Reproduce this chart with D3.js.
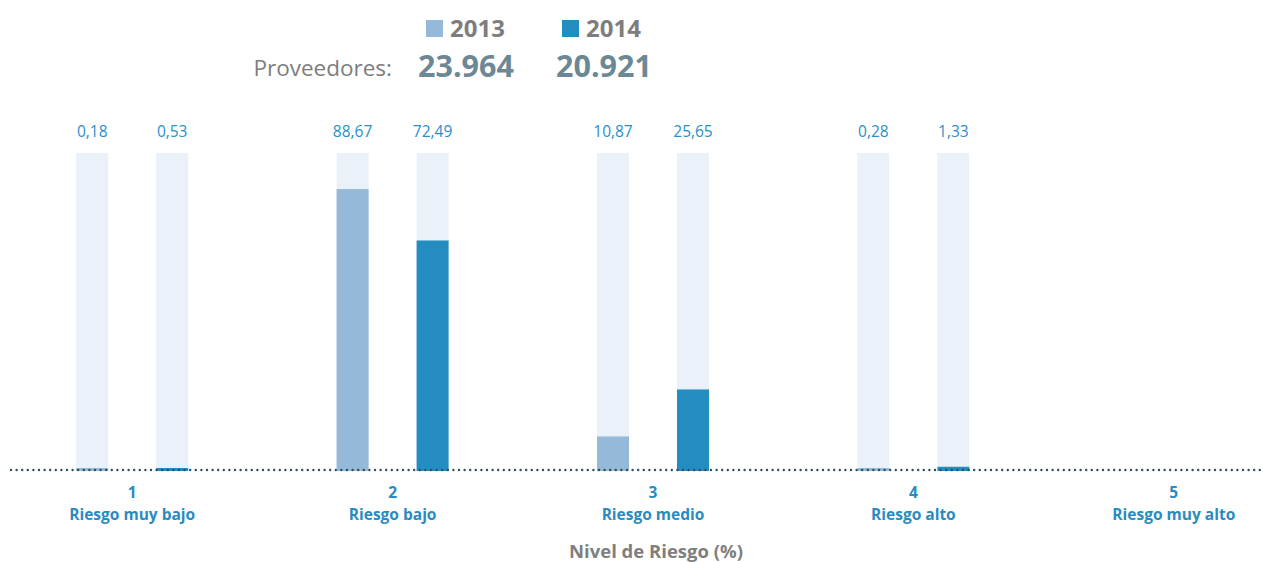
<!DOCTYPE html>
<html>
<head>
<meta charset="utf-8">
<script src="https://cdn.jsdelivr.net/npm/d3@7"></script>
<style>
  html, body { margin: 0; padding: 0; background: #fff; }
  svg { display: block; font-family: "Open Sans", "Noto Sans", sans-serif; }
</style>
</head>
<body>
<div id="chart"></div>
<script>
// Data
const levels = ["1", "2", "3", "4", "5"];
const levelNames = ["Riesgo muy bajo", "Riesgo bajo", "Riesgo medio", "Riesgo alto", "Riesgo muy alto"];
const years = ["2013", "2014"];
const values2013 = [0.18, 88.67, 10.87, 0.28, null];
const values2014 = [0.53, 72.49, 25.65, 1.33, null];
const suppliers = ["23.964", "20.921"];
const yearColors = ["#95bad9", "#238dc1"];

const W = 1263, H = 562;
const baseY = 470;

const svg = d3.select("#chart").append("svg")
  .attr("width", W).attr("height", H);

const x = d3.scaleBand().domain(levels).range([2, 1304]).padding(0);
const bar = d3.scaleBand().domain(years).range([-56, 56]).paddingInner(0.6).paddingOuter(0);
const y = d3.scaleLinear().domain([0, 100]).range([471, 153]);

const fmt = v => d3.format(".2f")(v).replace(".", ",");

const series = years.map((yr, i) => ({
  year: yr,
  color: yearColors[i],
  values: (i === 0 ? values2013 : values2014)
}));

const groups = svg.append("g").selectAll("g")
  .data(levels)
  .join("g")
  .attr("transform", d => `translate(${x(d) + x.bandwidth() / 2},0)`);

groups.each(function(lvl, li) {
  const g = d3.select(this);
  series.forEach(s => {
    const v = s.values[li];
    if (v == null) return;
    const bx = bar(s.year);
    const bw = bar.bandwidth();
    // background track
    g.append("rect")
      .attr("x", bx).attr("width", bw)
      .attr("y", y(100)).attr("height", y(0) - y(100))
      .attr("fill", "#eaf1f8");
    // value bar (keep tiny values visible)
    const h = Math.max(3, y(0) - y(v));
    g.append("rect")
      .attr("x", bx).attr("width", bw)
      .attr("y", y(0) - h).attr("height", h)
      .attr("fill", s.color);
    g.append("text")
      .attr("x", bx + bw / 2).attr("y", 137)
      .attr("text-anchor", "middle")
      .attr("font-size", 15.5)
      .attr("fill", "#2a8fc7")
      .text(fmt(v));
  });
  g.append("text")
    .attr("x", 0).attr("y", 498)
    .attr("text-anchor", "middle")
    .attr("font-size", 15.5).attr("font-weight", "bold")
    .attr("fill", "#2a8bc0")
    .text(lvl);
  g.append("text")
    .attr("x", 0).attr("y", 520)
    .attr("text-anchor", "middle")
    .attr("font-size", 15.5).attr("font-weight", "bold")
    .attr("fill", "#2a8bc0")
    .text(levelNames[li]);
});

// dotted baseline
svg.append("line")
  .attr("x1", 11).attr("x2", W)
  .attr("y1", baseY).attr("y2", baseY)
  .attr("stroke", "#2c4f5e")
  .attr("stroke-width", 2.4)
  .attr("stroke-linecap", "round")
  .attr("stroke-dasharray", "0,5.6");

// axis title
svg.append("text")
  .attr("x", 656).attr("y", 558)
  .attr("text-anchor", "middle")
  .attr("font-size", 18.5).attr("font-weight", "bold")
  .attr("fill", "#7f7f7f")
  .text("Nivel de Riesgo (%)");

// legend
const legX = [426, 562];
const legend = svg.append("g");
years.forEach((yr, i) => {
  legend.append("rect")
    .attr("x", legX[i]).attr("y", 20)
    .attr("width", 17).attr("height", 17)
    .attr("fill", yearColors[i]);
  legend.append("text")
    .attr("x", legX[i] + 24).attr("y", 37)
    .attr("font-size", 24).attr("font-weight", "bold")
    .attr("fill", "#7d7d7d")
    .text(yr);
});
legend.append("text")
  .attr("x", 392).attr("y", 76)
  .attr("text-anchor", "end")
  .attr("font-size", 22.5)
  .attr("fill", "#7d7d7d")
  .text("Proveedores:");
const numX = [418, 556];
suppliers.forEach((s, i) => {
  legend.append("text")
    .attr("x", numX[i]).attr("y", 77)
    .attr("font-size", 30.5).attr("font-weight", "bold")
    .attr("fill", "#6b8894")
    .text(s);
});
</script>
</body>
</html>
